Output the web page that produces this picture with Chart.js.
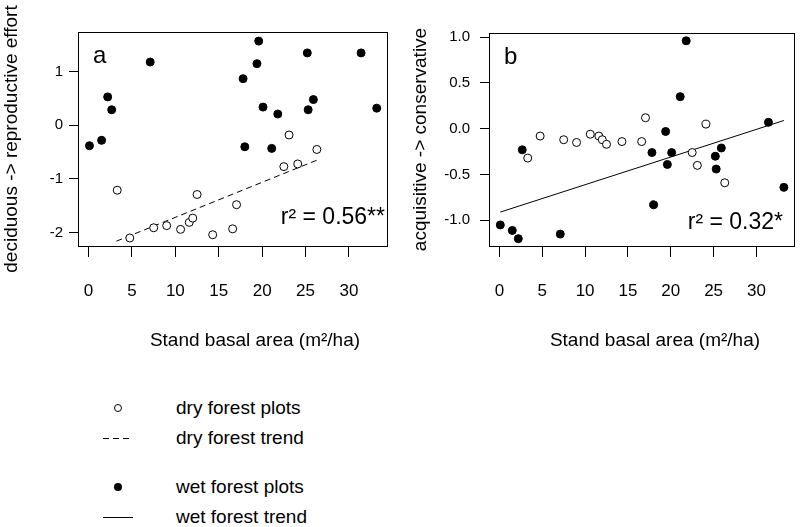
<!DOCTYPE html>
<html>
<head>
<meta charset="utf-8">
<script src="https://cdn.jsdelivr.net/npm/chart.js@4.4.1/dist/chart.umd.min.js"></script>
<style>
  html, body { margin: 0; padding: 0; background: #fff; }
  #page { position: relative; width: 800px; height: 527px; overflow: hidden; font-family: 'Liberation Sans', Arial, sans-serif; color: #000; }
  .panel { position: absolute; top: 0; width: 400px; height: 370px; }
  .legend-row { position: absolute; left: 0; width: 400px; height: 24px; font-size: 19px; line-height: 24px; }
  .legend-row svg { position: absolute; left: 100px; top: 0; }
  .legend-row span { position: absolute; left: 176px; top: 0; }
</style>
</head>
<body>
<div id="page">
  <div class="panel" style="left:0"><canvas id="chartA" width="400" height="370"></canvas></div>
  <div class="panel" style="left:400px"><canvas id="chartB" width="400" height="370"></canvas></div>

  <div class="legend-row" style="top:396px">
    <svg width="40" height="24"><circle cx="18" cy="12" r="3.5" fill="none" stroke="#000" stroke-width="1"/></svg>
    <span>dry forest plots</span>
  </div>
  <div class="legend-row" style="top:426px">
    <svg width="40" height="24"><line x1="3" y1="12.5" x2="33" y2="12.5" stroke="#000" stroke-width="1" stroke-dasharray="6,4"/></svg>
    <span>dry forest trend</span>
  </div>
  <div class="legend-row" style="top:475px">
    <svg width="40" height="24"><circle cx="18" cy="12" r="4" fill="#000"/></svg>
    <span>wet forest plots</span>
  </div>
  <div class="legend-row" style="top:505px">
    <svg width="40" height="24"><line x1="3" y1="12.5" x2="33" y2="12.5" stroke="#000" stroke-width="1"/></svg>
    <span>wet forest trend</span>
  </div>
</div>

<script>
// --- data ---
// stand basal area (m2/ha) of each plot
const dryX = [3.3, 4.75, 7.5, 9.0, 10.6, 11.6, 12.0, 12.5, 14.3, 16.6, 17.05, 22.5, 23.1, 24.1, 26.3];
const wetX = [0.1, 1.5, 2.2, 2.66, 7.1, 17.8, 18.0, 19.4, 19.6, 20.1, 21.1, 21.8, 25.2, 25.3, 25.9, 31.4, 33.2];

// panel a : deciduous -> reproductive effort
const dryA = [-1.21, -2.10, -1.91, -1.87, -1.94, -1.81, -1.73, -1.29, -2.04, -1.93, -1.48, -0.77, -0.18, -0.72, -0.45];
const wetA = [-0.38, -0.28, 0.53, 0.29, 1.18, 0.87, -0.40, 1.15, 1.57, 0.34, -0.43, 0.21, 1.35, 0.29, 0.48, 1.35, 0.32];

// panel b : acquisitive -> conservative
const dryB = [-0.32, -0.08, -0.12, -0.15, -0.06, -0.08, -0.12, -0.17, -0.14, -0.14, 0.12, -0.26, -0.40, 0.05, -0.59];
const wetB = [-1.05, -1.11, -1.20, -0.23, -1.15, -0.26, -0.83, -0.03, -0.39, -0.26, 0.35, 0.96, -0.30, -0.44, -0.21, 0.07, -0.64];

// trend line end points
const dryTrendX = [3.2, 26.3];
const dryTrendA = [-2.16, -0.65];
const wetTrendX = [0.1, 33.2];
const wetTrendB = [-0.91, 0.09];

// tick labels
const xTicks = [0, 5, 10, 15, 20, 25, 30];
const yTicksA = [-2, -1, 0, 1];
const yTicksB = [-1.0, -0.5, 0.0, 0.5, 1.0];

const FONT = "'Liberation Sans', Arial, sans-serif";

function pairs(xs, ys) {
    return xs.map((x, i) => ({ x: x, y: ys[i] }));
}

// frame, panel letter, r2 text and x-axis title
function panelDecor(letter, r2, r2Right, r2Drop) {
    return {
        id: 'decor' + letter,
        afterDraw(chart) {
            const ctx = chart.ctx;
            const a = chart.chartArea;
            ctx.save();
            ctx.strokeStyle = '#000';
            ctx.lineWidth = 1;
            ctx.strokeRect(Math.round(a.left) + 0.5, Math.round(a.top) + 0.5,
                Math.round(a.right - a.left) - 1, Math.round(a.bottom - a.top));
            ctx.fillStyle = '#000';
            ctx.textBaseline = 'alphabetic';
            ctx.font = '24px ' + FONT;
            ctx.textAlign = 'left';
            ctx.fillText(letter, a.left + 15, a.top + 31);
            ctx.font = '23px ' + FONT;
            ctx.textAlign = 'right';
            ctx.fillText(r2, a.right - r2Right, a.bottom - r2Drop);
            ctx.font = '19px ' + FONT;
            ctx.textAlign = 'center';
            ctx.textBaseline = 'middle';
            ctx.fillText('Stand basal area (m\u00B2/ha)', 255, 341);
            ctx.restore();
        }
    };
}

function makePanel(canvasId, cfg) {
    const ctx = document.getElementById(canvasId).getContext('2d');
    return new Chart(ctx, {
        type: 'scatter',
        data: {
            datasets: [
                {
                    label: 'dry forest plots',
                    data: pairs(dryX, cfg.dry),
                    pointStyle: 'circle',
                    pointRadius: 4,
                    pointBorderWidth: 1,
                    pointBackgroundColor: '#fff',
                    pointBorderColor: '#000'
                },
                {
                    label: 'wet forest plots',
                    data: pairs(wetX, cfg.wet),
                    pointStyle: 'circle',
                    pointRadius: 4,
                    pointBorderWidth: 1,
                    pointBackgroundColor: '#000',
                    pointBorderColor: '#000'
                },
                {
                    label: cfg.trendLabel,
                    data: pairs(cfg.trendX, cfg.trendY),
                    showLine: true,
                    borderColor: '#000',
                    borderWidth: 1,
                    borderDash: cfg.dash,
                    pointRadius: 0,
                    fill: false
                }
            ]
        },
        options: {
            responsive: false,
            animation: false,
            events: [],
            layout: { padding: { top: cfg.top, right: cfg.right, left: 0, bottom: 0 } },
            plugins: { legend: { display: false }, tooltip: { enabled: false } },
            scales: {
                x: {
                    type: 'linear',
                    min: -1.22,
                    max: 34.5,
                    afterFit: s => { s.height = 124; },
                    afterBuildTicks: s => { s.ticks = xTicks.map(v => ({ value: v })); },
                    border: { display: false },
                    grid: { drawOnChartArea: false, drawTicks: true, tickLength: 11, color: '#000' },
                    ticks: {
                        color: '#000',
                        padding: 24,
                        maxRotation: 0,
                        font: { family: FONT, size: 17 },
                        callback: v => String(v)
                    }
                },
                y: {
                    type: 'linear',
                    min: cfg.ymin,
                    max: cfg.ymax,
                    afterFit: s => { s.width = cfg.left; },
                    afterBuildTicks: s => { s.ticks = cfg.yTicks.map(v => ({ value: v })); },
                    border: { display: false },
                    grid: { drawOnChartArea: false, drawTicks: true, tickLength: 9, color: '#000' },
                    ticks: {
                        color: '#000',
                        padding: cfg.tickPad,
                        font: { family: FONT, size: 15 },
                        callback: cfg.fmt
                    },
                    title: {
                        display: true,
                        text: cfg.ylabel,
                        color: '#000',
                        font: { family: FONT, size: 19 },
                        padding: { top: cfg.titlePad, bottom: 0 }
                    }
                }
            }
        },
        plugins: [panelDecor(cfg.letter, cfg.r2, cfg.r2Right, cfg.r2Drop)]
    });
}

makePanel('chartA', {
    dry: dryA, wet: wetA,
    trendX: dryTrendX, trendY: dryTrendA, trendLabel: 'dry forest trend', dash: [6, 4],
    ymin: -2.25, ymax: 1.74, yTicks: yTicksA, fmt: v => String(v),
    top: 32, right: 12, left: 78, tickPad: 6, titlePad: 0,
    ylabel: 'deciduous -> reproductive effort',
    letter: 'a', r2: 'r\u00B2 = 0.56**', r2Right: 3, r2Drop: 22
});

makePanel('chartB', {
    dry: dryB, wet: wetB,
    trendX: wetTrendX, trendY: wetTrendB, trendLabel: 'wet forest trend', dash: [],
    ymin: -1.28, ymax: 1.045, yTicks: yTicksB, fmt: v => Number(v).toFixed(1),
    top: 33, right: 5, left: 89, tickPad: 10, titlePad: 9,
    ylabel: 'acquisitive -> conservative',
    letter: 'b', r2: 'r\u00B2 = 0.32*', r2Right: 12, r2Drop: 17
});
</script>
</body>
</html>
